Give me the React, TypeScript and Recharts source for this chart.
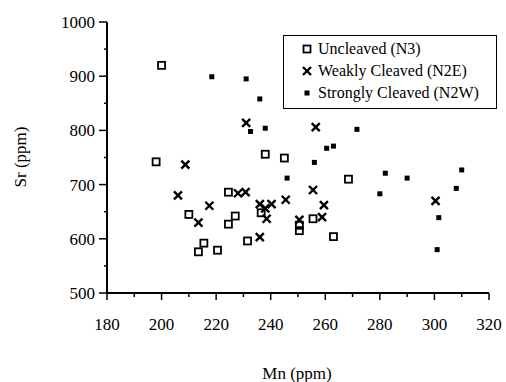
import React from "react";
import { ScatterChart, Scatter, XAxis, YAxis, Label } from "recharts";

// Uncleaved (N3)
const uncleavedMn = [198, 200, 210, 213.5, 215.5, 220.5, 224.5, 227, 224.5, 231.5, 238, 245, 236.5, 250.5, 250.5, 255.5, 263, 268.5];
const uncleavedSr = [742, 920, 645, 576, 592, 579, 686, 642, 627, 596, 756, 749, 648, 625, 615, 637, 604, 710];

// Weakly Cleaved (N2E)
const weakMn = [206, 208.7, 213.5, 217.5, 228, 230.8, 231, 236, 240.3, 238, 238.5, 236, 245.5, 250.5, 255.5, 256.5, 258.8, 259.5, 300.4];
const weakSr = [680, 737, 630, 661, 684, 686, 814, 664, 664, 656, 637, 603, 672, 635, 690, 806, 640, 662, 670];

// Strongly Cleaved (N2W)
const strongMn = [218.4, 231, 236, 232.6, 238, 260.5, 263, 271.6, 256, 246, 280, 282, 290, 310, 308, 301.6, 301];
const strongSr = [899, 895, 858, 798, 804, 767, 771, 802, 741, 712, 683, 721, 712, 727, 693, 639, 580];

const xTicks = [180, 190, 200, 210, 220, 230, 240, 250, 260, 270, 280, 290, 300, 310, 320];
const yTicks = [500, 550, 600, 650, 700, 750, 800, 850, 900, 950, 1000];

const FONT = '"Times New Roman", Times, "Liberation Serif", "DejaVu Serif", "Noto Serif", serif';

const toPoints = (xs: number[], ys: number[]) => xs.map((x, i) => ({ mn: x, sr: ys[i] }));

const OpenSquare = ({ cx, cy }: any) => (
  <rect x={cx - 3.5} y={cy - 3.5} width={7} height={7} fill="none" stroke="#000" strokeWidth={1.8} />
);

const Cross = ({ cx, cy }: any) => (
  <g stroke="#000" strokeWidth={2.4}>
    <line x1={cx - 4} y1={cy - 4} x2={cx + 4} y2={cy + 4} />
    <line x1={cx - 4} y1={cy + 4} x2={cx + 4} y2={cy - 4} />
  </g>
);

const FilledSquare = ({ cx, cy }: any) => (
  <rect x={cx - 2.5} y={cy - 2.5} width={5} height={5} fill="#000" />
);

const textStyle = { fontFamily: FONT, fontSize: 17 };

const XTick = ({ x, y, payload }: any) => {
  const major = payload.value % 20 === 0;
  return (
    <g>
      <line x1={x} x2={x} y1={y} y2={y + (major ? 7 : 4)} stroke="#000" strokeWidth={1.5} />
      {major && (
        <text x={x} y={y + 37} textAnchor="middle" style={textStyle} fill="#000">
          {payload.value}
        </text>
      )}
    </g>
  );
};

const YTick = ({ x, y, payload }: any) => {
  const major = payload.value % 100 === 0;
  return (
    <g>
      <line x1={x - (major ? 8 : 3)} x2={x} y1={y} y2={y} stroke="#000" strokeWidth={1.5} />
      {major && (
        <text x={x - 12} y={y + 6} textAnchor="end" style={textStyle} fill="#000">
          {payload.value}
        </text>
      )}
    </g>
  );
};

const legendRows = [
  { name: "Uncleaved (N3)", mark: <rect x={1.5} y={1.5} width={7} height={7} fill="none" stroke="#000" strokeWidth={1.8} /> },
  {
    name: "Weakly Cleaved (N2E)",
    mark: (
      <g stroke="#000" strokeWidth={2.4}>
        <line x1={1} y1={1} x2={9} y2={9} />
        <line x1={1} y1={9} x2={9} y2={1} />
      </g>
    ),
  },
  { name: "Strongly Cleaved (N2W)", mark: <rect x={2.5} y={2.5} width={5} height={5} fill="#000" /> },
];

const LegendBox = () => (
  <div
    style={{
      position: "absolute",
      left: 283,
      top: 35,
      boxSizing: "border-box",
      width: 214,
      height: 74,
      border: "1.5px solid #000",
      paddingTop: 2,
      fontFamily: FONT,
      fontSize: 16,
      color: "#000",
      background: "#fff",
    }}
  >
    {legendRows.map((r) => (
      <div key={r.name} style={{ display: "flex", alignItems: "center", height: 22, paddingLeft: 18 }}>
        <svg width={10} height={10} style={{ marginRight: 6 }}>
          {r.mark}
        </svg>
        <span>{r.name}</span>
      </div>
    ))}
  </div>
);

export default function App() {
  return (
    <div style={{ position: "fixed", left: 0, top: 0, width: 506, height: 382, background: "#fff" }}>
      <ScatterChart width={506} height={382} margin={{ top: 22, right: 17, left: 0, bottom: 0 }}>
        <XAxis
          type="number"
          dataKey="mn"
          domain={[180, 320]}
          ticks={xTicks}
          interval={0}
          height={89}
          tickSize={0}
          tickMargin={0}
          tick={<XTick />}
          axisLine={{ stroke: "#000", strokeWidth: 2 }}
          tickLine={false}
        >
          <Label
            content={() => (
              <text x={297} y={379} textAnchor="middle" style={textStyle} fill="#000">
                Mn (ppm)
              </text>
            )}
          />
        </XAxis>
        <YAxis
          type="number"
          dataKey="sr"
          domain={[500, 1000]}
          ticks={yTicks}
          interval={0}
          width={107}
          tickSize={0}
          tickMargin={0}
          tick={<YTick />}
          axisLine={{ stroke: "#000", strokeWidth: 2 }}
          tickLine={false}
        >
          <Label
            content={() => (
              <text x={26} y={157} transform="rotate(-90 26 157)" textAnchor="middle" style={textStyle} fill="#000">
                Sr (ppm)
              </text>
            )}
          />
        </YAxis>
        <Scatter name="Uncleaved (N3)" data={toPoints(uncleavedMn, uncleavedSr)} shape={OpenSquare} isAnimationActive={false} />
        <Scatter name="Weakly Cleaved (N2E)" data={toPoints(weakMn, weakSr)} shape={Cross} isAnimationActive={false} />
        <Scatter name="Strongly Cleaved (N2W)" data={toPoints(strongMn, strongSr)} shape={FilledSquare} isAnimationActive={false} />
      </ScatterChart>
      <LegendBox />
    </div>
  );
}
